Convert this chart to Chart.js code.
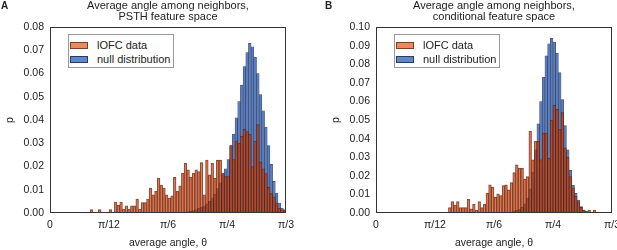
<!DOCTYPE html>
<html>
<head>
<meta charset="utf-8">
<script src="https://cdn.jsdelivr.net/npm/chart.js@4.4.1/dist/chart.umd.min.js"></script>
<style>
  body { margin: 0; background: #fff; font-family: "Liberation Sans", Arial, sans-serif; color: #222; }
  #wrap { position: relative; width: 617px; height: 250px; overflow: hidden; }
  .panel { position: absolute; top: 0; }
  .letter { position: absolute; top: 0px; font-weight: bold; font-size: 10px; }
  .legend { position: absolute; top: 34px; width: 104px; height: 32px; border: 1px solid #999; background: #fff; font-size: 11px; }
  .item { position: absolute; left: 1px; height: 13px; line-height: 13px; white-space: nowrap; }
  .sw { display: inline-block; width: 16px; height: 5px; vertical-align: middle; margin-right: 9px; margin-top: -2px; }
</style>
</head>
<body>
<div id="wrap">
  <div class="panel" style="left:0px"><canvas id="chartA" width="300" height="250"></canvas></div>
  <div class="panel" style="left:326px"><canvas id="chartB" width="300" height="250"></canvas></div>
  <div class="letter" style="left:1px">A</div>
  <div class="letter" style="left:325px">B</div>
  <div class="legend" style="left:68px">
    <div class="item" style="top:4px"><span class="sw" style="background:#e98a5e;border:1px solid #7a4028"></span>lOFC data</div>
    <div class="item" style="top:18px"><span class="sw" style="background:#5f86c8;border:1px solid #2a3a5a"></span>null distribution</div>
  </div>
  <div class="legend" style="left:394px">
    <div class="item" style="top:4px"><span class="sw" style="background:#e98a5e;border:1px solid #7a4028"></span>lOFC data</div>
    <div class="item" style="top:18px"><span class="sw" style="background:#5f86c8;border:1px solid #2a3a5a"></span>null distribution</div>
  </div>
</div>
<script>
// histogram bins: 88 bins from 0 to pi/3
const nBins = 88;
const xTickLabels = ['0', 'π/12', 'π/6', 'π/4', 'π/3'];

// Panel A - PSTH feature space
const lofcA = [
  0, 0, 0, 0, 0, 0, 0, 0, 0, 0, 0, 0, 0, 0, 0,
  0.0015, 0, 0, 0.0015, 0, 0, 0, 0.0015, 0,
  0.0047, 0.0033, 0.0047, 0.0017, 0.0031, 0.0017, 0.0031, 0.0031, 0.006, 0.0017,
  0.0045, 0.0045, 0.006, 0.0107, 0.0078, 0.0093, 0.015, 0.012, 0.0107, 0.0078,
  0.0064, 0.0074, 0.0153, 0.0093, 0.0117, 0.0171, 0.0214, 0.0186, 0.0154, 0.0171,
  0.0186, 0.0178, 0.0217, 0.0078, 0.0228, 0.0164, 0.0214, 0.015, 0.0228, 0.0228,
  0.017, 0.0157, 0.0157, 0.029, 0.023, 0.031, 0.030, 0.033, 0.036, 0.035,
  0.034, 0.020, 0.031, 0.038, 0.022, 0.019, 0.017, 0.011, 0.0086, 0.007,
  0.0043, 0.002, 0.0014, 0.0014
];
const nullA = [
  0, 0, 0, 0, 0, 0, 0, 0, 0, 0, 0, 0, 0, 0, 0, 0, 0, 0, 0, 0,
  0, 0, 0, 0, 0, 0, 0, 0, 0, 0, 0, 0, 0, 0, 0, 0, 0, 0, 0, 0,
  0, 0, 0, 0, 0, 0, 0, 0, 0, 0,
  0.0003, 0.0005, 0.0008, 0.001, 0.0015, 0.002, 0.0025, 0.003, 0.004, 0.005,
  0.0065, 0.008, 0.0105, 0.013, 0.017, 0.019, 0.023, 0.029, 0.034, 0.041,
  0.048, 0.055, 0.063, 0.069, 0.073, 0.0715, 0.067, 0.060, 0.051, 0.044,
  0.037, 0.029, 0.021, 0.0136, 0.0086, 0.0043, 0.0021, 0.0014
];

// Panel B - conditional feature space
const lofcB = [
  0, 0, 0, 0, 0, 0, 0, 0, 0, 0, 0, 0, 0, 0, 0, 0, 0, 0, 0, 0,
  0, 0, 0, 0, 0, 0, 0,
  0.0029, 0.0061, 0.0043, 0.0061, 0.0029, 0.0029, 0.0029, 0.0074, 0.0022, 0.0047,
  0.0016, 0.0061, 0.0029, 0.0047, 0.0106, 0.0151, 0.0139, 0.0085, 0.0103, 0.0094,
  0.0148, 0.0151, 0.0124, 0.0164, 0.0218, 0.0259, 0.0241, 0.0241, 0.0182, 0.0196,
  0.044, 0.0286, 0.0386, 0.0386, 0.0286, 0.043, 0.043, 0.0295, 0.050, 0.058,
  0.0557, 0.045, 0.054, 0.035, 0.030, 0.0196, 0.0135, 0.009, 0.006, 0.003,
  0.0016, 0.0007, 0.0016, 0, 0.0016, 0, 0, 0, 0, 0, 0
];
const nullB = [
  0, 0, 0, 0, 0, 0, 0, 0, 0, 0, 0, 0, 0, 0, 0, 0, 0, 0, 0, 0,
  0, 0, 0, 0, 0, 0, 0, 0, 0, 0, 0, 0, 0, 0, 0, 0, 0, 0, 0, 0,
  0, 0, 0, 0, 0, 0, 0, 0, 0, 0,
  0.0005, 0.001, 0.0015, 0.002, 0.003, 0.005, 0.008, 0.013, 0.022, 0.034,
  0.048, 0.060, 0.073, 0.0845, 0.091, 0.094, 0.092, 0.086, 0.0755, 0.061,
  0.047, 0.034, 0.023, 0.015, 0.0106, 0.007, 0.0034, 0.0016, 0.0007,
  0, 0, 0, 0, 0, 0, 0, 0, 0
];

const binWidth = (Math.PI / 3) / nBins;
const binCenters = [];
for (let i = 0; i < nBins; i++) binCenters.push((i + 0.5) * binWidth);

function toPoints(values) {
  return values.map((v, i) => ({ x: binCenters[i], y: v }));
}

// frame around the plot area
const framePlugin = {
  id: 'frame',
  afterDatasetsDraw(chart) {
    const a = chart.chartArea;
    const ctx = chart.ctx;
    ctx.save();
    ctx.strokeStyle = '#333';
    ctx.lineWidth = 1;
    ctx.strokeRect(Math.round(a.left) + 0.5, Math.round(a.top) + 0.5,
      Math.round(a.right - a.left) - 1, Math.round(a.bottom - a.top) - 1);
    ctx.restore();
  }
};

function makeChart(id, title, lofc, nul, yMax, padRight) {
  const ctx = document.getElementById(id).getContext('2d');
  return new Chart(ctx, {
    type: 'bar',
    data: {
      datasets: [
        {
          label: 'lOFC data',
          data: toPoints(lofc),
          backgroundColor: 'rgba(215,62,4,0.6)',
          borderColor: 'rgba(70,30,20,0.75)',
          borderWidth: 0.6,
          grouped: false,
          barPercentage: 1,
          categoryPercentage: 1
        },
        {
          label: 'null distribution',
          data: toPoints(nul),
          backgroundColor: 'rgb(90,125,190)',
          borderColor: 'rgba(30,40,70,0.85)',
          borderWidth: 0.6,
          grouped: false,
          barPercentage: 1,
          categoryPercentage: 1
        }
      ]
    },
    options: {
      responsive: false,
      animation: false,
      devicePixelRatio: 1,
      layout: { padding: { left: 0, right: padRight, top: 0, bottom: 0 } },
      scales: {
        x: {
          type: 'linear',
          min: 0,
          max: Math.PI / 3,
          offset: false,
          grid: { display: false, drawTicks: false },
          border: { display: false },
          afterBuildTicks: s => { s.ticks = [0, 1, 2, 3, 4].map(k => ({ value: k * Math.PI / 12 })); },
          afterFit: s => { s.height = 37; },
          ticks: {
            padding: 6,
            color: '#222',
            font: { family: 'Liberation Sans', size: 10.5 },
            maxRotation: 0,
            callback: (v, i) => xTickLabels[i]
          },
          title: {
            display: true,
            text: 'average angle, θ',
            color: '#222',
            font: { family: 'Liberation Sans', size: 10.5 },
            padding: { top: 0, bottom: 1 }
          }
        },
        y: {
          min: 0,
          max: yMax,
          grid: { display: false, drawTicks: false },
          border: { display: false },
          afterFit: s => { s.width = 50; },
          ticks: {
            stepSize: 0.01,
            padding: 6,
            color: '#222',
            font: { family: 'Liberation Sans', size: 10.5 },
            callback: v => v.toFixed(2)
          },
          title: {
            display: true,
            text: 'p',
            color: '#222',
            font: { family: 'Liberation Sans', size: 10.5 },
            padding: { top: 4, bottom: 0 }
          }
        }
      },
      plugins: {
        legend: { display: false },
        tooltip: { enabled: false },
        title: {
          display: true,
          fullSize: false,
          text: title,
          color: '#222',
          font: { family: 'Liberation Sans', size: 11, weight: 'normal', lineHeight: 1.05 },
          padding: { top: 0, bottom: 4 }
        }
      }
    },
    plugins: [framePlugin]
  });
}

makeChart('chartA', ['Average angle among neighbors,', 'PSTH feature space'], lofcA, nullA, 0.08, 13);
makeChart('chartB', ['Average angle among neighbors,', 'conditional feature space'], lofcB, nullB, 0.10, 13);
</script>
</body>
</html>
